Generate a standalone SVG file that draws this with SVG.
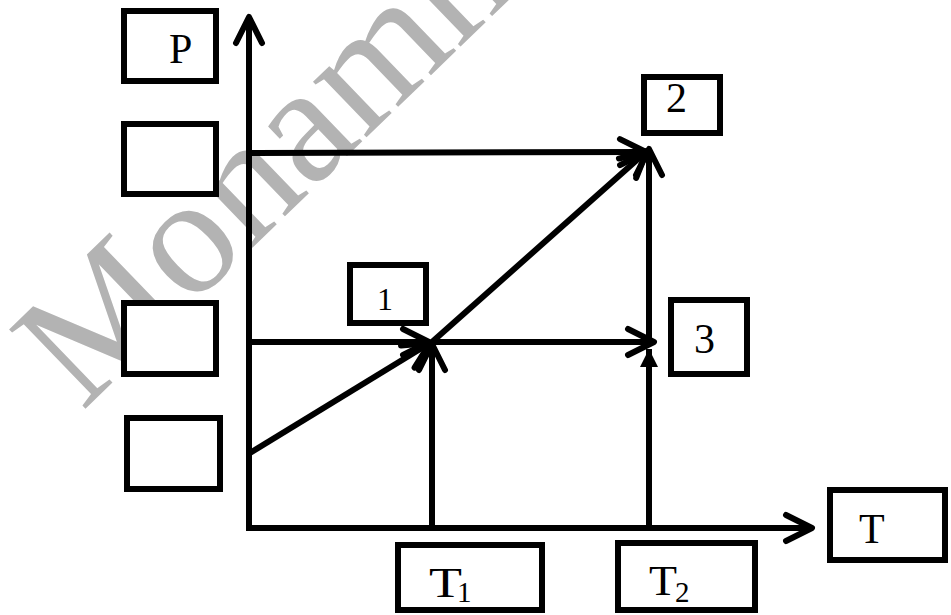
<svg xmlns="http://www.w3.org/2000/svg" width="951" height="615" viewBox="0 0 951 615">
  <style>
    .ln { fill: none; stroke: #000; stroke-width: 6; stroke-linecap: butt; }
    .box { fill: #fff; stroke: #000; stroke-width: 6; }
    .lbl { font-family: "Liberation Serif", "Times New Roman", serif; font-size: 42px; fill: #000; }
    .wm { font-family: "Liberation Serif", "Times New Roman", serif; font-size: 168px; fill: #b3b3b3; }
  </style>
  <defs>
    <marker id="chev" markerUnits="userSpaceOnUse" markerWidth="60" markerHeight="60" refX="30" refY="30" orient="auto" viewBox="0 0 60 60">
      <path d="M4,17 L30,30 L4,43" fill="none" stroke="#000" stroke-width="6" stroke-linecap="round" stroke-linejoin="round"/>
    </marker>
    <marker id="tri" markerUnits="userSpaceOnUse" markerWidth="40" markerHeight="40" refX="20" refY="20" orient="auto" viewBox="0 0 40 40">
      <path d="M2,11 L20,20 L2,29 Z" fill="#000"/>
    </marker>
  </defs>

  <!-- background watermark -->
  <text class="wm" transform="translate(82,412) rotate(-44)">Mohammad</text>

  <!-- axes and process lines -->
  <g id="connectors">
    <path class="ln" d="M249,531 L249,17" marker-end="url(#chev)"/>
    <path class="ln" d="M246,528 L812,528" marker-end="url(#chev)"/>
    <path class="ln" d="M249,153 L646,152" marker-end="url(#chev)"/>
    <path class="ln" d="M249,342 L429,342" marker-end="url(#chev)"/>
    <path class="ln" d="M432,342 L654,342" marker-end="url(#chev)"/>
    <path class="ln" d="M250,453 L430,343" marker-end="url(#chev)"/>
    <path class="ln" d="M432,342 L647,151" marker-end="url(#chev)"/>
    <path class="ln" d="M432,528 L432,344" marker-end="url(#chev)"/>
    <path class="ln" d="M649,342 L649,149" marker-end="url(#chev)"/>
    <path class="ln" d="M649,528 L649,349" marker-end="url(#tri)"/>
  </g>

  <g id="label-P">
    <rect class="box" x="124" y="11" width="92" height="70"/>
    <text class="lbl" x="169" y="63">P</text>
  </g>
  <g id="p-box-a">
    <rect class="box" x="124" y="124" width="92" height="70"/>
  </g>
  <g id="p-box-b">
    <rect class="box" x="124" y="303" width="92" height="71"/>
  </g>
  <g id="p-box-c">
    <rect class="box" x="127" y="418" width="93" height="71"/>
  </g>
  <g id="state-1">
    <rect class="box" x="350" y="265" width="76" height="58"/>
    <text class="lbl" x="377" y="310" style="font-size:32px">1</text>
  </g>
  <g id="state-2">
    <rect class="box" x="644" y="77" width="76" height="56"/>
    <text class="lbl" x="666" y="112">2</text>
  </g>
  <g id="state-3">
    <rect class="box" x="671" y="300" width="76" height="74"/>
    <text class="lbl" x="694" y="353">3</text>
  </g>
  <g id="label-T1">
    <rect class="box" x="398" y="545" width="144" height="65"/>
    <text class="lbl" x="429" y="597"><tspan textLength="33" lengthAdjust="spacingAndGlyphs">T</tspan><tspan x="457" y="602" style="font-size:29px">1</tspan></text>
  </g>
  <g id="label-T2">
    <rect class="box" x="618" y="543" width="137" height="67"/>
    <text class="lbl" x="649" y="595"><tspan textLength="28" lengthAdjust="spacingAndGlyphs">T</tspan><tspan x="675" y="602" style="font-size:29px">2</tspan></text>
  </g>
  <g id="label-T">
    <rect class="box" x="830" y="490" width="115" height="70"/>
    <text class="lbl" x="859" y="543">T</text>
  </g>
</svg>
